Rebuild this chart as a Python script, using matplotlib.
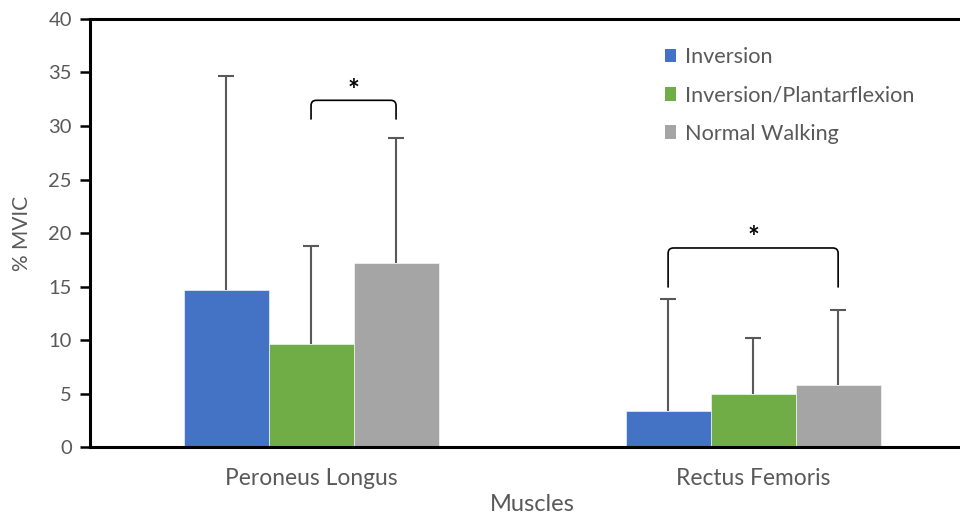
import matplotlib

matplotlib.use("Agg")
import matplotlib.pyplot as plt
import numpy as np
from matplotlib.patches import PathPatch, Patch
from matplotlib.path import Path

muscles = ["Peroneus Longus", "Rectus Femoris"]
conditions = ["Inversion", "Inversion/Plantarflexion", "Normal Walking"]
mean_mvic = {
    "Inversion": [14.7, 3.4],
    "Inversion/Plantarflexion": [9.6, 5.0],
    "Normal Walking": [17.2, 5.8],
}
sd_mvic = {
    "Inversion": [20.0, 10.4],
    "Inversion/Plantarflexion": [9.2, 5.2],
    "Normal Walking": [11.7, 7.0],
}
# significance brackets: (muscle index, first condition, second condition, leg bottom, bar top)
brackets = [
    (0, 1, 2, 30.6, 32.4),
    (1, 0, 2, 14.9, 18.6),
]

COLORS = ["#4472C4", "#70AD47", "#A5A5A5"]
TEXT = "#595959"
ERR = "#595959"
FONT = "Lato"

plt.rcParams["font.family"] = [FONT, "DejaVu Sans"]

fig = plt.figure(figsize=(9.6, 5.19), dpi=100, facecolor="white")
ax = fig.add_axes([0.09375, 0.1387, 0.921, 0.8247])

x = np.arange(len(muscles))
width = 0.1923
offsets = (np.arange(len(conditions)) - 1) * width

for cond, off, color in zip(conditions, offsets, COLORS):
    ax.bar(x + off, mean_mvic[cond], width, color=color, edgecolor="white",
           linewidth=0.4, label=cond, zorder=2)
    # one-sided (upper) error bars; hide the lower cap
    _, caps, _ = ax.errorbar(x + off, mean_mvic[cond],
                             yerr=[np.zeros(len(muscles)), sd_mvic[cond]],
                             fmt="none", ecolor=ERR, elinewidth=1.5, capsize=5.5,
                             capthick=1.5, zorder=3)
    caps[0].set_visible(False)

for m, a, b, y_low, y_top in brackets:
    x1 = x[m] + offsets[a]
    x2 = x[m] + offsets[b]
    dx = 0.012
    dy = 0.5
    verts = [
        (x1, y_low), (x1, y_top - dy),
        (x1, y_top), (x1 + dx, y_top),
        (x2 - dx, y_top),
        (x2, y_top), (x2, y_top - dy),
        (x2, y_low),
    ]
    codes = [Path.MOVETO, Path.LINETO, Path.CURVE3, Path.CURVE3, Path.LINETO,
             Path.CURVE3, Path.CURVE3, Path.LINETO]
    ax.add_patch(PathPatch(Path(verts, codes), facecolor="none", edgecolor="black",
                           linewidth=1.2, zorder=4))
    ax.text((x1 + x2) / 2, y_top + 0.9, "*", ha="center", va="center",
            fontsize=20, fontweight="bold", color="black")

ax.set_xlim(-0.5, 1.5)
ax.set_ylim(0, 40)
ax.set_yticks(np.arange(0, 41, 5))
ax.set_xticks(x)
ax.set_xticklabels(muscles)
ax.tick_params(axis="y", direction="out", length=7, width=1.8, colors="black",
               labelcolor=TEXT, labelsize=14.5, pad=6)
ax.tick_params(axis="x", length=0, labelcolor=TEXT, labelsize=16.4, pad=15)

for side in ["left", "bottom", "top"]:
    ax.spines[side].set_linewidth(2.2)
    ax.spines[side].set_color("black")
ax.spines["right"].set_visible(False)

ax.set_ylabel("% MVIC", fontsize=15, color=TEXT, labelpad=12)
ax.set_xlabel("Muscles", fontsize=17, color=TEXT, labelpad=4)

handles = [Patch(facecolor=c, edgecolor="none") for c in COLORS]
ax.legend(handles, conditions, loc="upper left", bbox_to_anchor=(0.628, 0.98),
          frameon=False, fontsize=15.6, labelcolor=TEXT, handlelength=0.5,
          handleheight=0.6, handletextpad=0.45, labelspacing=0.85)

fig.savefig("out.png", dpi=100, facecolor="white")
